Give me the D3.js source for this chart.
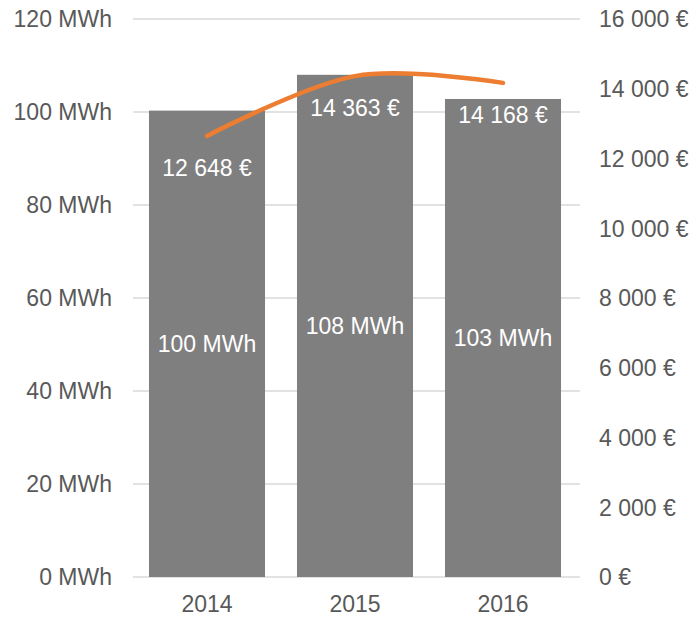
<!DOCTYPE html>
<html>
<head>
<meta charset="utf-8">
<script src="https://cdn.jsdelivr.net/npm/d3@7"></script>
<style>
  body { margin: 0; background: #fff; }
  text { font-family: "Liberation Sans", Arial, sans-serif; }
</style>
</head>
<body>
<svg id="chart" width="698" height="617"></svg>
<script>
var years = ["2014", "2015", "2016"];
var energy = [100.3, 108, 102.8];     // MWh
var cost = [12648, 14363, 14168];     // €
var leftTicks = [0, 20, 40, 60, 80, 100, 120];
var rightTicks = [0, 2000, 4000, 6000, 8000, 10000, 12000, 14000, 16000];

var svg = d3.select("#chart");
var fontSize = 23;

var x = d3.scaleBand().domain(years).range([133, 577]).paddingInner(0.216).paddingOuter(0.108);
var y = d3.scaleLinear().domain([0, 120]).range([577, 19]);
var y2 = d3.scaleLinear().domain([0, 16000]).range([577, 19]);

// gridlines
svg.append("g")
  .selectAll("line")
  .data(leftTicks)
  .enter().append("line")
    .attr("x1", 133).attr("x2", 580)
    .attr("y1", function(d) { return y(d); })
    .attr("y2", function(d) { return y(d); })
    .attr("stroke", "#d9d9d9")
    .attr("stroke-width", 1.5);

// left axis labels
svg.append("g")
  .selectAll("text")
  .data(leftTicks)
  .enter().append("text")
    .attr("x", 112)
    .attr("y", function(d) { return y(d); })
    .attr("dy", "0.36em")
    .attr("text-anchor", "end")
    .attr("fill", "#595959")
    .style("font-size", fontSize + "px")
    .text(function(d) { return d + " MWh"; });

var fmt = function(v) { return d3.format(",")(v).replace(/,/g, " ") + " €"; };

// right axis labels
svg.append("g")
  .selectAll("text")
  .data(rightTicks)
  .enter().append("text")
    .attr("x", 599)
    .attr("y", function(d) { return y2(d); })
    .attr("dy", "0.36em")
    .attr("fill", "#595959")
    .style("font-size", fontSize + "px")
    .text(fmt);

// bars
svg.append("g")
  .selectAll("rect")
  .data(years)
  .enter().append("rect")
    .attr("x", function(d) { return x(d); })
    .attr("width", x.bandwidth())
    .attr("y", function(d, i) { return y(energy[i]); })
    .attr("height", function(d, i) { return y(0) - y(energy[i]); })
    .attr("fill", "#7f7f7f");

// x labels
svg.append("g")
  .selectAll("text")
  .data(years)
  .enter().append("text")
    .attr("x", function(d) { return x(d) + x.bandwidth() / 2; })
    .attr("y", 612)
    .attr("text-anchor", "middle")
    .attr("fill", "#595959")
    .style("font-size", fontSize + "px")
    .text(function(d) { return d; });

// bar value labels
svg.append("g")
  .selectAll("text")
  .data(years)
  .enter().append("text")
    .attr("x", function(d) { return x(d) + x.bandwidth() / 2; })
    .attr("y", function(d, i) { return (y(energy[i]) + y(0)) / 2; })
    .attr("dy", "0.36em")
    .attr("text-anchor", "middle")
    .attr("fill", "#ffffff")
    .style("font-size", fontSize + "px")
    .text(function(d, i) { return Math.round(energy[i]) + " MWh"; });

// cost line
var line = d3.line()
  .x(function(d, i) { return x(years[i]) + x.bandwidth() / 2; })
  .y(function(d) { return y2(d); })
  .curve(d3.curveCardinal.tension(0));

svg.append("path")
  .datum(cost)
  .attr("d", line)
  .attr("fill", "none")
  .attr("stroke", "#ed7d31")
  .attr("stroke-width", 4.5)
  .attr("stroke-linecap", "round");

// cost labels
svg.append("g")
  .selectAll("text")
  .data(cost)
  .enter().append("text")
    .attr("x", function(d, i) { return x(years[i]) + x.bandwidth() / 2; })
    .attr("y", function(d) { return y2(d) + 32; })
    .attr("dy", "0.36em")
    .attr("text-anchor", "middle")
    .attr("fill", "#ffffff")
    .style("font-size", fontSize + "px")
    .text(fmt);
</script>
</body>
</html>
